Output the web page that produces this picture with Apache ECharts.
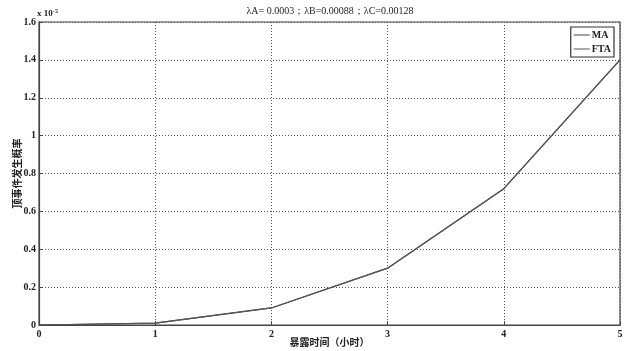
<!DOCTYPE html>
<html>
<head>
<meta charset="utf-8">
<script src="https://cdn.jsdelivr.net/npm/echarts@6/dist/echarts.min.js"></script>
<style>
html,body{margin:0;padding:0;background:#fff;}
#chart{width:625px;height:351px;}
</style>
</head>
<body>
<div id="chart"></div>
<script>
// Exposure time (hours) and top-event probability (x10^-3)
const hours = [0, 1, 2, 3, 4, 5];
const maValues = [0, 0.01, 0.09, 0.30, 0.72, 1.40];
const ftaValues = [0, 0.01, 0.09, 0.30, 0.72, 1.40];
const seriesNames = ['MA', 'FTA'];
const titleText = 'λA= 0.0003；λB=0.00088；λC=0.00128';
const xName = '暴露时间（小时）';
const yName = '顶事件发生概率';

const serif = '"Liberation Serif", "Times New Roman", serif';
const cjk = '"Noto Sans CJK SC", sans-serif';
const ink = '#222';

const chart = echarts.init(document.getElementById('chart'));
chart.setOption({
  animation: false,
  backgroundColor: '#fff',
  legend: {
    data: seriesNames,
    orient: 'vertical',
    right: 11,
    top: 27,
    itemWidth: 16,
    itemHeight: 1,
    itemGap: 4,
    padding: [3, 3, 3, 3],
    borderColor: '#333',
    borderWidth: 1.2,
    backgroundColor: '#fff',
    icon: 'rect',
    textStyle: { fontFamily: serif, fontSize: 10, fontWeight: 'bold', color: ink, padding: [0, 0, 0, -3] }
  },
  grid: {
    left: 39, right: 5, top: 22, bottom: 26,
    outerBoundsMode: 'none',
    containLabel: false,
    show: true, borderColor: '#444', borderWidth: 1.2
  },
  xAxis: {
    type: 'value',
    min: 0, max: 5, interval: 1,
    name: xName,
    nameLocation: 'middle',
    nameGap: 12,
    nameMoveOverlap: false,
    nameTextStyle: { fontFamily: cjk, fontSize: 10, fontWeight: 'bold', color: ink },
    axisLine: { show: true, lineStyle: { color: '#444', width: 1.2 } },
    axisTick: { show: true, inside: true, length: 4, lineStyle: { color: '#444' } },
    axisLabel: { fontFamily: serif, fontSize: 10, fontWeight: 'bold', color: ink, margin: 4 },
    splitLine: { show: true, lineStyle: { color: '#555', type: [1, 2], width: 1 } }
  },
  yAxis: {
    type: 'value',
    min: 0, max: 1.6, interval: 0.2,
    name: yName,
    nameLocation: 'middle',
    nameGap: 17,
    nameMoveOverlap: false,
    nameRotate: 90,
    nameTextStyle: { fontFamily: cjk, fontSize: 10, fontWeight: 'bold', color: ink },
    axisLine: { show: true, lineStyle: { color: '#444', width: 1.2 } },
    axisTick: { show: true, inside: true, length: 4, lineStyle: { color: '#444' } },
    axisLabel: {
      fontFamily: serif, fontSize: 10, fontWeight: 'bold', color: ink, margin: 3,
      formatter: v => String(Math.round(v * 10) / 10)
    },
    splitLine: { show: true, lineStyle: { color: '#555', type: [1, 2], width: 1 } }
  },
  graphic: [
    {
      type: 'text',
      x: 330, y: 6,
      style: {
        text: titleText,
        align: 'center',
        font: '10px ' + serif,
        fill: ink
      }
    },
    {
      type: 'text',
      left: 37, top: 8,
      style: {
        text: 'x 10{s|-3}',
        rich: { s: { fontSize: 6, verticalAlign: 'top', padding: [0, 0, 5, 0] } },
        font: 'bold 9px ' + serif,
        fill: ink
      }
    }
  ],
  series: [
    {
      name: seriesNames[0],
      type: 'line',
      data: hours.map((h, i) => [h, maValues[i]]),
      symbol: 'none',
      lineStyle: { color: '#444', width: 1.2 },
      itemStyle: { color: '#444' }
    },
    {
      name: seriesNames[1],
      type: 'line',
      data: hours.map((h, i) => [h, ftaValues[i]]),
      symbol: 'none',
      lineStyle: { color: '#555', width: 1.2 },
      itemStyle: { color: '#555' }
    }
  ]
});
</script>
</body>
</html>
